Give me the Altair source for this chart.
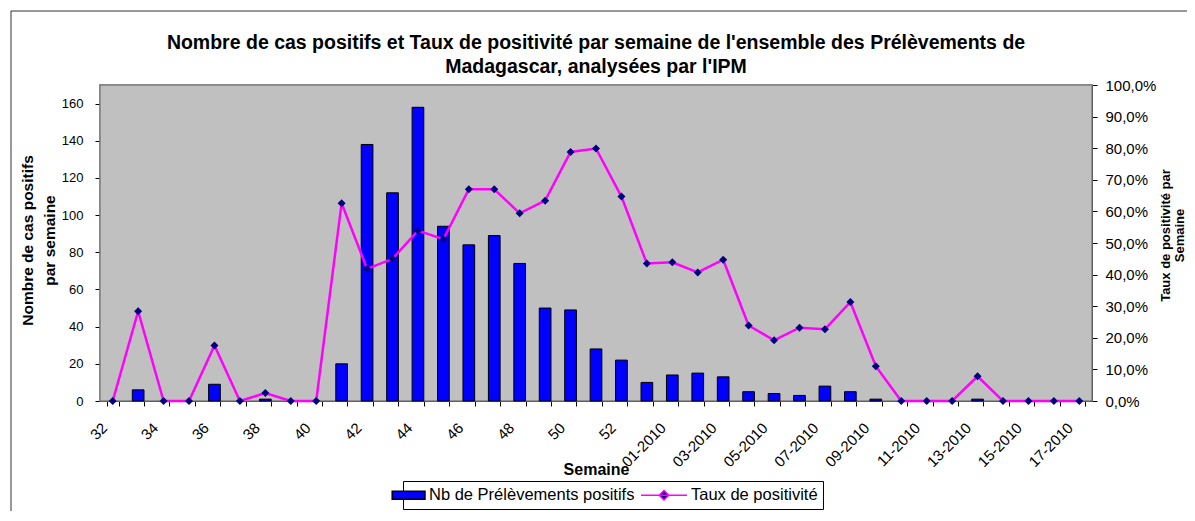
import altair as alt
import pandas as pd

FONT = "Liberation Sans"

semaines = ["32", "33", "34", "35", "36", "37", "38", "39", "40", "41", "42",
            "43", "44", "45", "46", "47", "48", "49", "50", "51", "52",
            "01-2010", "02-2010", "03-2010", "04-2010", "05-2010", "06-2010",
            "07-2010", "08-2010", "09-2010", "10-2010", "11-2010", "12-2010",
            "13-2010", "14-2010", "15-2010", "16-2010", "17-2010", "18-2010"]
cas_positifs = [0, 6, 0, 0, 9, 0, 1, 0, 0, 20,
                138, 112, 158, 94, 84, 89, 74, 50, 49, 28,
                22, 10, 14, 15, 13, 5, 4, 3, 8, 5,
                1, 0, 0, 0, 1, 0, 0, 0, 0]
taux_pct = [0, 28.4, 0, 0, 17.6, 0, 2.5, 0, 0, 62.6,
            41.8, 45.0, 53.9, 51.2, 67.0, 67.0, 59.4, 63.4, 78.8, 79.9,
            64.7, 43.5, 43.9, 40.7, 44.7, 23.9, 19.2, 23.2, 22.7, 31.3,
            11.0, 0, 0, 0, 7.8, 0, 0, 0, 0]
left_ticks = [0, 20, 40, 60, 80, 100, 120, 140, 160]
right_ticks = [0, 0.1, 0.2, 0.3, 0.4, 0.5, 0.6, 0.7, 0.8, 0.9, 1.0]
series = ["Nb de Prélèvements positifs", "Taux de positivité"]

df = pd.DataFrame({"semaine": semaines, "cas": cas_positifs,
                   "taux": [v / 100 for v in taux_pct]})

label_expr = ("(length(datum.label) <= 2 ? toNumber(datum.label) % 2 == 0 : "
              "toNumber(substring(datum.label, 0, 2)) % 2 == 1) ? datum.label : ''")

x_axis = alt.Axis(
    title="Semaine", tickBand="extent", labelExpr=label_expr, labelAngle=-45,
    labelAlign="right", labelBaseline="middle", labelOverlap=False,
    labelOffset={"condition": {"test": "length(datum.label) > 3", "value": 16}, "value": -8.5},
    labelPadding=19, tickSize=5, labelFontSize=15,
    titleFontSize=16, titleFontWeight="bold", titleY=68.5, titleBaseline="middle",
)
x_enc = alt.X("semaine:N", sort=None,
              scale=alt.Scale(domain=semaines, paddingInner=0.54, paddingOuter=0.27),
              axis=x_axis)

left_axis = alt.Axis(
    values=left_ticks, title=["Nombre de cas positifs", "par semaine"],
    titleFontSize=15.5, titleFontWeight="bold", titleAngle=-90,
    titleX=-72.5, titleY=155, titleBaseline="middle", titleAlign="center",
    titleLineHeight=21.5, labelFontSize=13, labelPadding=12, tickSize=5,
)
right_axis = alt.Axis(
    orient="right", values=right_ticks,
    labelExpr="replace(format(datum.value, '.1%'), '.', ',')",
    title=["Taux de positivité par", "Semaine"],
    titleFontSize=13, titleFontWeight="bold", titleAngle=-90,
    titleX=73, titleY=150, titleBaseline="middle", titleAlign="center",
    titleLineHeight=14.5, labelFontSize=15, labelPadding=8, tickSize=5,
)

base = alt.Chart(df)

bars = base.transform_filter("datum.cas > 0").mark_bar(
    color="#0000FF", stroke="#000000", strokeWidth=1
).encode(
    x=x_enc,
    y=alt.Y("cas:Q", scale=alt.Scale(domain=[0, 170], nice=False), axis=left_axis),
)

y_taux = alt.Y("taux:Q", scale=alt.Scale(domain=[0, 1], nice=False), axis=right_axis)
line = base.mark_line(color="#FF00FF", strokeWidth=2.5).encode(x=x_enc, y=y_taux)
points = base.mark_point(shape="diamond", filled=True, color="#000080",
                         size=64, opacity=1).encode(x=x_enc, y=y_taux)
taux_layer = alt.layer(line, points)

rect_path = "M-3.1,-0.5H1V0.5H-3.1Z"
line_path = "M-4.75,0H1M-1.875,-0.6L-1.275,0L-1.875,0.6L-2.475,0Z"
leg = alt.Legend(
    title=None, orient="none", legendX=303, legendY=396, direction="horizontal",
    strokeColor="black", fillColor="white", padding=5, symbolSize=256,
    symbolStrokeWidth=1.5, labelFont=FONT, labelFontSize=16.5, labelColor="black",
    labelOffset=3, columnPadding=3, labelLimit=400,
)
legend_layer = alt.Chart(pd.DataFrame({"serie": series})).transform_filter(
    "false"
).mark_point(filled=True, opacity=1).encode(
    shape=alt.Shape("serie:N", scale=alt.Scale(domain=series, range=[rect_path, line_path]), legend=leg),
    fill=alt.Fill("serie:N", scale=alt.Scale(domain=series, range=["#0000FF", "#000080"]), legend=leg),
    stroke=alt.Stroke("serie:N", scale=alt.Scale(domain=series, range=["#000000", "#FF00FF"]), legend=leg),
)

frame = alt.Chart(alt.Data(values=[{}])).mark_rect(
    fill="transparent", stroke="#303030", strokeWidth=1
).encode(x=alt.value(-89), x2=alt.value(1300), y=alt.value(-74), y2=alt.value(700))

plot_bg = alt.Chart(alt.Data(values=[{}])).mark_rect(
    fill="#C0C0C0", stroke="#808080", strokeWidth=1.5
).encode(x=alt.value(0), x2=alt.value("width"), y=alt.value(0), y2=alt.value("height"))

chart = alt.layer(frame, plot_bg, bars, taux_layer, legend_layer).resolve_scale(
    y="independent"
).properties(
    width=992, height=316,
    autosize=alt.AutoSizeParams(type="none"),
    padding={"left": 92, "top": 77, "right": 95, "bottom": 110},
    title=alt.TitleParams(
        text=["Nombre de cas positifs et Taux de positivité par semaine de l'ensemble des Prélèvements de",
              "Madagascar, analysées par l'IPM"],
        fontSize=19.5, fontWeight="bold", font=FONT, color="black",
        anchor="middle", frame="group", lineHeight=24, offset=0, dy=67,
    ),
).configure_view(
    fill="#C0C0C0", stroke="#808080", strokeWidth=1.5
).configure_axis(
    labelFont=FONT, titleFont=FONT, labelColor="black", titleColor="black",
    domainColor="black", tickColor="black", grid=False,
)

chart.save("out.html", embed_options={"renderer": "svg", "actions": False})
